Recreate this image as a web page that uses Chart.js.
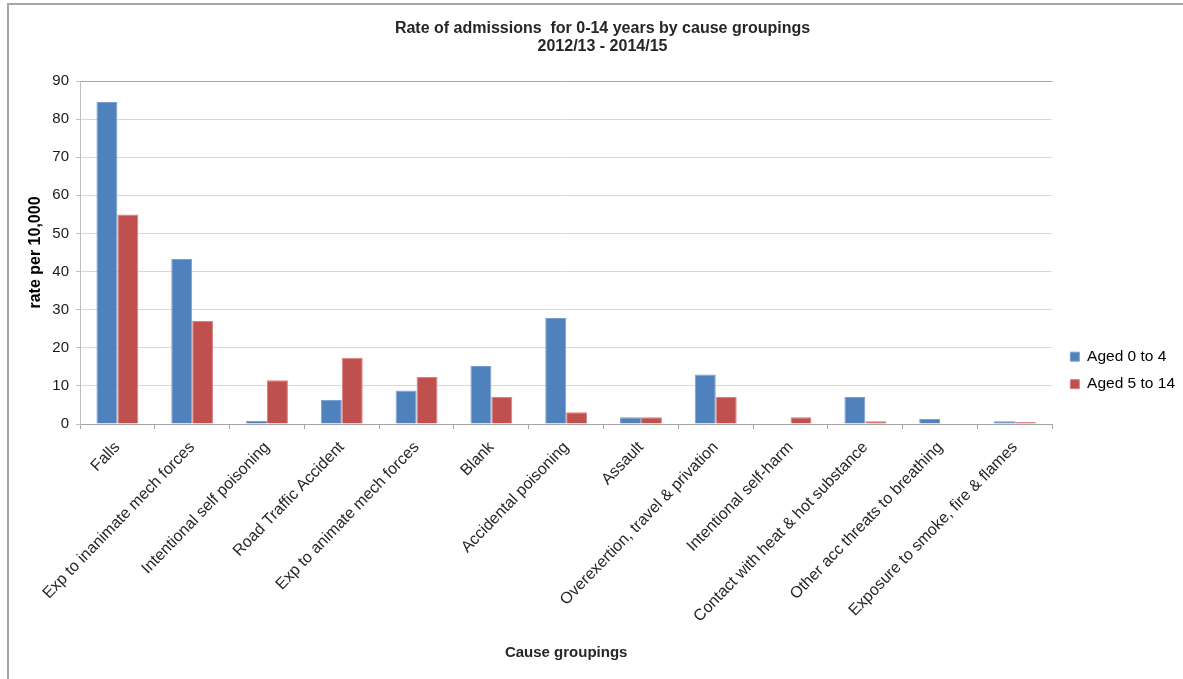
<!DOCTYPE html>
<html>
<head>
<meta charset="utf-8">
<title>Rate of admissions for 0-14 years by cause groupings</title>
<script src="https://cdn.jsdelivr.net/npm/chart.js@4.4.1/dist/chart.umd.min.js"></script>
<style>
  html, body { margin: 0; padding: 0; background: #ffffff; }
  #wrap { position: relative; width: 1183px; height: 679px; overflow: hidden; }
  #frame { position: absolute; left: 7px; top: 3px; width: 1190px; height: 690px;
           border-top: 2px solid #a6a6a6; border-left: 2px solid #a6a6a6; box-sizing: border-box; }
  canvas { position: absolute; left: 0; top: 0; }
</style>
</head>
<body>
<div id="wrap">
  <div id="frame"></div>
  <canvas id="chart" width="1183" height="679"></canvas>
</div>
<script>
// Cause groupings along the x axis
const causes = [
  'Falls',
  'Exp to inanimate mech forces',
  'Intentional self poisoning',
  'Road Traffic Accident',
  'Exp to animate mech forces',
  'Blank',
  'Accidental poisoning',
  'Assault',
  'Overexertion, travel & privation',
  'Intentional self-harm',
  'Contact with heat & hot substance',
  'Other acc threats to breathing',
  'Exposure to smoke, fire & flames'
];

// Admission rates per 10,000 by age band
const aged0to4  = [84.5, 43.3, 0.8, 6.3, 8.8, 15.2, 27.8, 1.8, 13.0, 0.0, 7.1, 1.3, 0.7];
const aged5to14 = [55.0, 27.0, 11.5, 17.4, 12.3, 7.1, 3.1, 1.8, 7.1, 1.8, 0.7, 0.0, 0.5];

const seriesNames = ['Aged 0 to 4', 'Aged 5 to 14'];
const titleLines = ['Rate of admissions  for 0-14 years by cause groupings', '2012/13 - 2014/15'];
const yTitle = 'rate per 10,000';
const xTitle = 'Cause groupings';

const FONT = "'Liberation Sans', Arial, sans-serif";

// Nudge the key a little to the right of where the layout puts it
const legendNudge = {
  id: 'legendNudge',
  afterLayout(chart) {
    const lg = chart.legend;
    if (lg) { lg.left += 6; lg.right += 6; }
  }
};

new Chart(document.getElementById('chart'), {
  type: 'bar',
  data: {
    labels: causes,
    datasets: [
      { label: seriesNames[0], data: aged0to4, backgroundColor: '#4f81bd',
        borderColor: '#7a9fd0', borderWidth: 1 },
      { label: seriesNames[1], data: aged5to14, backgroundColor: '#c0504d',
        borderColor: '#d98280', borderWidth: 1 }
    ]
  },
  plugins: [legendNudge],
  options: {
    responsive: false,
    animation: false,
    layout: { padding: { left: 26, right: 4, top: 0, bottom: 12 } },
    datasets: { bar: { categoryPercentage: 0.56, barPercentage: 1.0 } },
    plugins: {
      title: {
        display: true,
        text: titleLines,
        color: '#262626',
        font: { family: FONT, size: 16, weight: 'bold', lineHeight: 1.125 },
        padding: { top: 20, bottom: 25 }
      },
      legend: {
        position: 'right',
        // empty legend heading, used only to push the key items downward
        title: {
          display: true,
          text: ' ',
          font: { family: FONT, size: 14 },
          padding: { top: 0, bottom: 57 }
        },
        labels: {
          color: '#000000',
          font: { family: FONT, size: 15.5 },
          boxWidth: 9,
          boxHeight: 9,
          padding: 12
        }
      },
      tooltip: { enabled: false }
    },
    scales: {
      x: {
        afterFit: (scale) => { scale.height = 243; },
        grid: {
          display: true,
          offset: true,
          drawOnChartArea: false,
          drawTicks: true,
          tickLength: 5,
          color: '#a6a6a6'
        },
        border: { color: '#a6a6a6' },
        ticks: {
          color: '#262626',
          font: { family: FONT, size: 16 },
          minRotation: 46,
          maxRotation: 46,
          autoSkip: false,
          padding: 9
        },
        title: {
          display: true,
          text: xTitle,
          color: '#262626',
          font: { family: FONT, size: 15, weight: 'bold', lineHeight: 1.2 },
          padding: { top: 4, bottom: 5 }
        }
      },
      y: {
        afterFit: (scale) => { scale.width = 54; },
        min: 0,
        max: 90,
        ticks: {
          stepSize: 10,
          color: '#1a1a1a',
          font: { family: FONT, size: 15 },
          padding: 7
        },
        grid: {
          color: (ctx) => (ctx.tick && ctx.tick.value === 90 ? '#a6a6a6' : '#d9d9d9'),
          tickLength: 4,
          tickColor: '#bfbfbf'
        },
        border: { color: '#bfbfbf' },
        title: {
          display: true,
          text: yTitle,
          color: '#000000',
          font: { family: FONT, size: 16, weight: 'bold' },
          padding: { top: 0, bottom: 6 }
        }
      }
    }
  }
});
</script>
</body>
</html>
